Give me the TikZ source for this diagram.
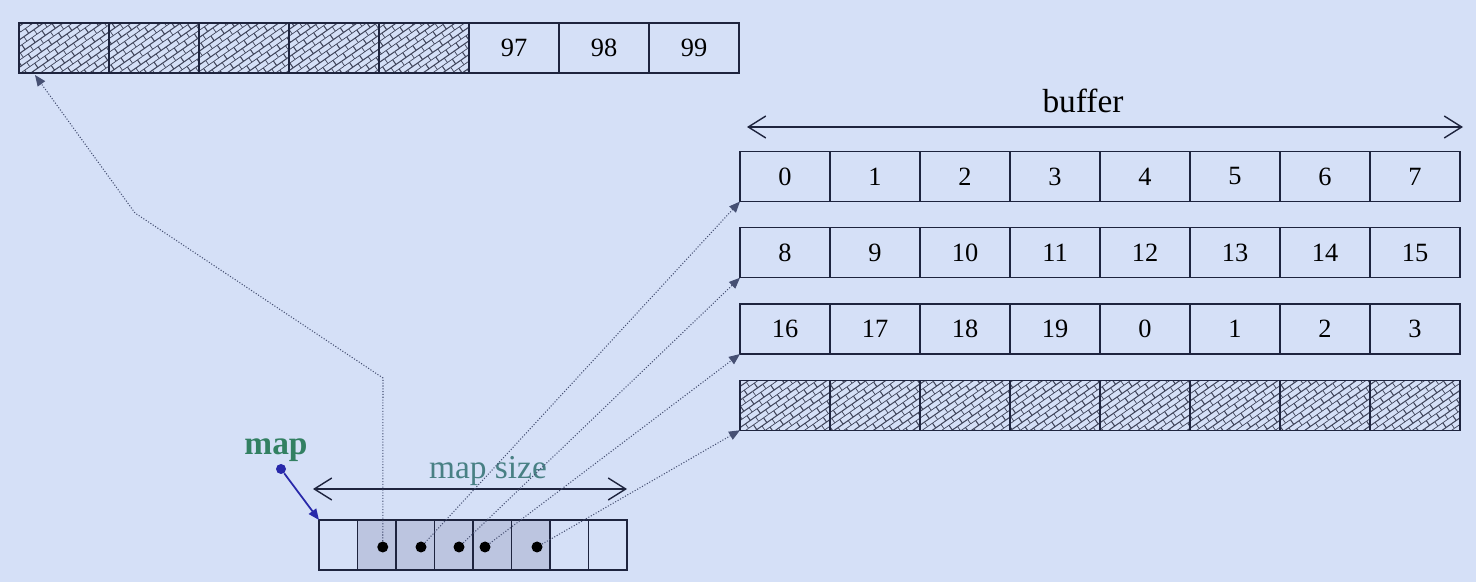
\documentclass[tikz,border=0pt]{standalone}
\usepackage{fontspec}
\setmainfont{Liberation Serif}
\usetikzlibrary{positioning, arrows.meta, patterns.meta}
\definecolor{SlideBlue}{RGB}{213,224,247}
\definecolor{CellLine}{RGB}{30,36,62}
\definecolor{MapShade}{RGB}{188,197,224}
\definecolor{MapGreen}{RGB}{50,128,98}
\definecolor{SizeTeal}{RGB}{72,128,132}
\definecolor{PtrBlue}{RGB}{40,40,170}
\definecolor{LinkGray}{RGB}{70,80,115}
\tikzdeclarepattern{
	name=slantbricks,
	type=uncolored,
	bottom left={(-.1pt,-.1pt)},
	top right={(7.1pt,6.5pt)},
	tile size={(7pt,6.4pt)},
	tile transformation={rotate=35},
	code={
		\draw[line width=.6pt] (0,0) -- (7pt,0) (0,3.2pt) -- (7pt,3.2pt)
			(0,0) -- (0,3.2pt) (3.5pt,3.2pt) -- (3.5pt,6.4pt);
	}
}

\begin{document}
\begin{tikzpicture}[
		cell/.style={draw=CellLine, line width=0.8pt, minimum width=1.8cm, minimum height=1cm,
			inner sep=0pt, outer sep=0pt, font=\fontsize{15}{17}\selectfont},
		hatched/.style={cell, pattern=slantbricks, pattern color=CellLine!85},
		mapcell/.style={cell, minimum width=0.77cm},
		dot/.style={circle, fill=black, inner sep=0pt, minimum size=0.22cm},
		link/.style={draw=LinkGray, densely dotted, line width=0.6pt, -{Triangle[length=2.2mm,width=1.8mm]}},
		span/.style={draw=CellLine, line width=0.8pt,
			{Straight Barb[length=3.5mm,width=4.4mm]}-{Straight Barb[length=3.5mm,width=4.4mm]}},
		biglabel/.style={font=\fontsize{19}{21}\selectfont}
	]
	\fill[SlideBlue] (0,0) rectangle (29.52,-11.64);
	\useasboundingbox (0,0) rectangle (29.52,-11.64);

	% old buffer, top left
	\foreach \i in {1,...,5}
		\node[hatched] (t\i) at ({0.38+1.8*\i-0.9},-0.96) {};
	\node[cell, right=0pt of t5] (t6) {97};
	\node[cell, right=0pt of t6] (t7) {98};
	\node[cell, right=0pt of t7] (t8) {99};

	% buffer rows
	\foreach \row/\vals in {1/{0,1,2,3,4,5,6,7}, 2/{8,9,10,11,12,13,14,15}, 3/{16,17,18,19,0,1,2,3}}
		\foreach \v [count=\c] in \vals
			\node[cell] (b\row-\c) at ({14.8+1.8*\c-0.9},{-2.005-1.525*\row}) {\v};
	\foreach \c in {1,...,8}
		\node[hatched] (b4-\c) at ({14.8+1.8*\c-0.9},-8.105) {};

	\coordinate (bufL) at (14.94,-2.54);
	\coordinate (bufR) at (29.26,-2.54);
	\draw[span] (bufL) -- (bufR);
	\node[biglabel] (buflabel) at (21.66,-2.02) {buffer};

	% map array
	\foreach \i in {1,7,8}
		\node[mapcell] (m\i) at ({6.38+0.77*\i-0.385},-10.9) {};
	\foreach \i in {2,...,6}
		\node[mapcell, fill=MapShade] (m\i) at ({6.38+0.77*\i-0.385},-10.9) {};

	\node[dot] (p2) at ([xshift=1.2mm,yshift=-0.4mm]m2.center) {};
	\node[dot] (p3) at ([xshift=1.15mm,yshift=-0.4mm]m3.center) {};
	\node[dot] (p4) at ([xshift=1.05mm,yshift=-0.4mm]m4.center) {};
	\node[dot] (p5) at ([xshift=-1.45mm,yshift=-0.4mm]m5.center) {};
	\node[dot] (p6) at ([xshift=1.25mm,yshift=-0.4mm]m6.center) {};

	\coordinate (sizeL) at (6.26,-9.78);
	\coordinate (sizeR) at (12.54,-9.78);
	\draw[span] (sizeL) -- (sizeR);
	\node[biglabel, text=SizeTeal] (sizelabel) at (9.76,-9.42) {map size};

	\node[biglabel, text=MapGreen, font=\fontsize{19}{21}\selectfont\bfseries] (maplabel) at (5.52,-9.0) {map};
	\node[circle, fill=PtrBlue, inner sep=0pt, minimum size=0.2cm] (mapptr) at (5.62,-9.38) {};
	\draw[PtrBlue, line width=1pt, -{Triangle[length=2.2mm,width=1.8mm]}] (mapptr) -- (m1.north west);

	% pointers
	\coordinate (kneeA) at (7.66,-7.56);
	\coordinate (kneeB) at (2.7,-4.26);
	\coordinate (topend) at (0.70,-1.50);
	\draw[link] (p2) -- (kneeA) -- (kneeB) -- (topend);
	\draw[link] (p3) -- (b1-1.south west);
	\draw[link] (p4) -- (b2-1.south west);
	\draw[link] (p5) -- (b3-1.south west);
	\draw[link] (p6) -- (b4-1.south west);

\end{tikzpicture}
\end{document}
